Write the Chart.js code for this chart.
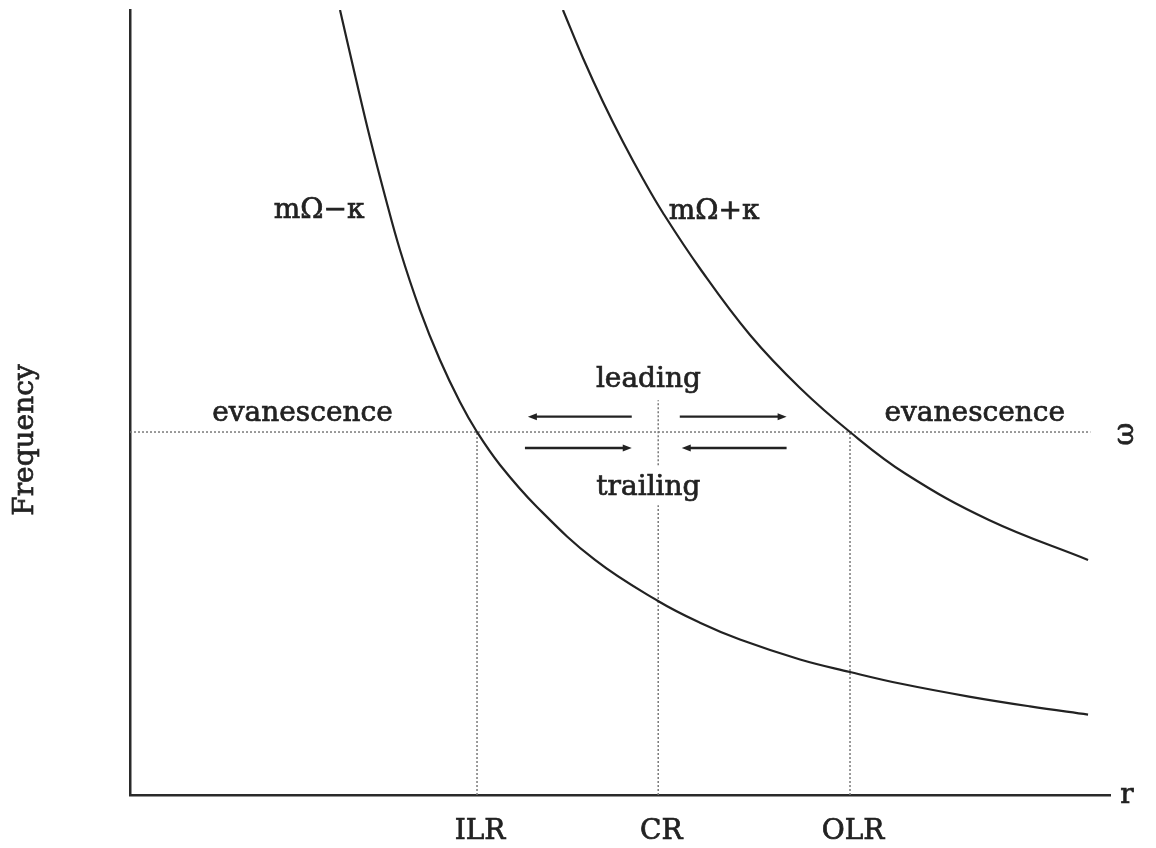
<!DOCTYPE html>
<html>
<head>
<meta charset="utf-8">
<script src="https://cdn.jsdelivr.net/npm/chart.js@4.4.1/dist/chart.umd.min.js"></script>
<style>
html,body{margin:0;padding:0;background:#fff;}
#wrap{width:1156px;height:848px;position:relative;}
</style>
</head>
<body>
<div id="wrap"><canvas id="c" width="1156" height="848"></canvas></div>
<script>
// ---- data (radius r, frequency), both on 0-100 scales ----
const lowerR = [21.43, 22.96, 24.49, 26.02, 27.55, 29.59, 31.63, 33.67, 35.41, 37.76, 41.53, 47.45, 53.88, 58.16, 62.24, 68.37, 73.47, 78.57, 85.61, 91.84, 97.76];
const lowerF = [100.0, 91.72, 83.69, 76.31, 69.43, 61.78, 55.41, 50.06, 46.24, 42.04, 36.69, 29.94, 24.71, 21.94, 19.80, 17.27, 15.67, 14.20, 12.54, 11.29, 10.25];
const upperR = [44.18, 46.22, 48.27, 50.31, 52.35, 54.39, 58.16, 63.27, 68.37, 73.47, 79.18, 87.65, 97.76];
const upperF = [100.0, 93.89, 88.28, 83.18, 78.47, 74.14, 67.07, 58.60, 51.85, 46.24, 40.89, 35.03, 29.94];
const omega = 46.24;
const omegaEnd = 98.0;
const resonanceLabels = ["ILR", "CR", "OLR"];
const resonanceR = [35.41, 53.9, 73.47];
const crTop = 50.3;
const crGap = [36.9, 42.0];
// arrows: from r -> to r (head end), at frequency f
const arrowFrom = [51.2, 56.1, 40.3, 67.0];
const arrowTo   = [40.6, 67.0, 51.2, 56.3];
const arrowF    = [48.2, 48.2, 44.2, 44.2];
// annotation texts
const noteText = ["mΩ−κ", "mΩ+κ", "evanescence", "evanescence", "leading", "trailing"];
const noteR    = [19.3, 59.6, 17.6, 86.2, 52.9, 52.9];
const noteF    = [74.4, 74.3, 48.6, 48.6, 52.9, 39.1];

const pts = (xs, ys) => xs.map((x, i) => ({x: x, y: ys[i]}));
const INK = '#222222';
const DOT = '#7a7a7a';
const FONT = '"DejaVu Serif", serif';

const dotted = (data) => ({
  data: data, borderColor: DOT, borderWidth: 1.5, borderDash: [2, 2],
  pointRadius: 0, showLine: true, fill: false, spanGaps: false, tension: 0
});

const curve = (data) => ({
  data: data, borderColor: INK, borderWidth: 2.2, pointRadius: 0,
  showLine: true, tension: 0.4, cubicInterpolationMode: 'default'
});

const datasets = [
  curve(pts(lowerR, lowerF)),
  curve(pts(upperR, upperF)),
  dotted([{x: 0, y: omega}, {x: omegaEnd, y: omega}]),
  dotted([{x: resonanceR[0], y: 0}, {x: resonanceR[0], y: omega}]),
  dotted([{x: resonanceR[2], y: 0}, {x: resonanceR[2], y: omega}]),
  dotted([{x: resonanceR[1], y: 0}, {x: resonanceR[1], y: crGap[0]}, {x: null, y: null}, {x: resonanceR[1], y: crGap[1]}, {x: resonanceR[1], y: crTop}])
];

function heavyText(ctx, t, x, y) {
  ctx.fillText(t, x, y);
  ctx.strokeText(t, x, y);
}

const textPlugin = {
  id: 'texts',
  afterDraw(chart) {
    const ctx = chart.ctx;
    const xs = chart.scales.x, ys = chart.scales.y;
    ctx.save();
    ctx.fillStyle = INK;
    ctx.strokeStyle = INK;
    ctx.font = '28px ' + FONT;
    ctx.textAlign = 'center';
    ctx.textBaseline = 'middle';
    ctx.lineWidth = 0.7;
    noteText.forEach((t, i) => {
      heavyText(ctx, t, xs.getPixelForValue(noteR[i]), ys.getPixelForValue(noteF[i]));
    });
    const yb = ys.getPixelForValue(0);
    resonanceLabels.forEach((t, i) => {
      heavyText(ctx, t, xs.getPixelForValue(resonanceR[i]) + 3, yb + 37);
    });
    heavyText(ctx, 'r', xs.right + 17, yb + 1);
    ctx.save();
    ctx.translate(xs.right + 16, ys.getPixelForValue(omega) + 2);
    ctx.rotate(-Math.PI / 2);
    heavyText(ctx, 'ω', 0, 0);
    ctx.restore();
    ctx.save();
    ctx.translate(26, 440);
    ctx.rotate(-Math.PI / 2);
    heavyText(ctx, 'Frequency', 0, 0);
    ctx.restore();
    ctx.lineWidth = 2.4;
    arrowFrom.forEach((a, i) => {
      const x1 = xs.getPixelForValue(a), x2 = xs.getPixelForValue(arrowTo[i]);
      const y = ys.getPixelForValue(arrowF[i]);
      const dir = Math.sign(x2 - x1);
      ctx.beginPath();
      ctx.moveTo(x1, y);
      ctx.lineTo(x2 - dir * 6, y);
      ctx.stroke();
      ctx.beginPath();
      ctx.moveTo(x2, y);
      ctx.lineTo(x2 - dir * 9, y - 3.5);
      ctx.lineTo(x2 - dir * 9, y + 3.5);
      ctx.closePath();
      ctx.fill();
    });
    ctx.restore();
  }
};

new Chart(document.getElementById('c'), {
  type: 'scatter',
  data: {datasets: datasets},
  options: {
    responsive: false,
    animation: false,
    events: [],
    layout: {padding: {left: 130, top: 10, right: 46, bottom: 53}},
    plugins: {legend: {display: false}, tooltip: {enabled: false}},
    scales: {
      x: {
        type: 'linear', min: 0, max: 100,
        grid: {display: false, drawTicks: false},
        ticks: {display: false},
        border: {display: true, color: '#2a2a2a', width: 2.5}
      },
      y: {
        type: 'linear', min: 0, max: 100,
        grid: {display: false, drawTicks: false},
        ticks: {display: false},
        border: {display: true, color: '#2a2a2a', width: 2.5}
      }
    }
  },
  plugins: [textPlugin]
});
</script>
</body>
</html>
